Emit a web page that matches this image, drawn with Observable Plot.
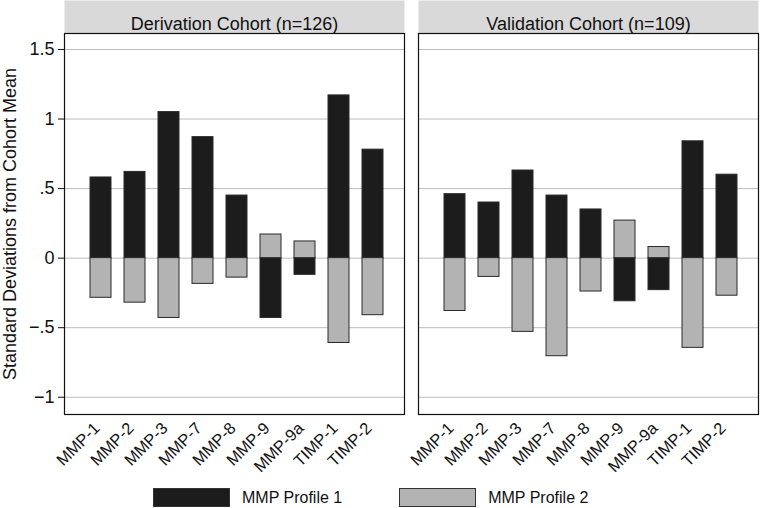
<!DOCTYPE html>
<html>
<head>
<meta charset="utf-8">
<script src="https://cdn.jsdelivr.net/npm/d3@7"></script>
<script src="https://cdn.jsdelivr.net/npm/@observablehq/plot@0.6"></script>
<style>
  body { margin: 0; background: #fff; font-family: "Liberation Sans", Arial, sans-serif; }
  #legend { height: 28px; box-sizing: border-box; padding-top: 7px; padding-left: 153px; display: flex; align-items: center; font-size: 16px; color: #111; }
  #legend .sw { width: 77px; height: 19px; box-sizing: border-box; border: 1px solid #333; }
  #legend .lab { margin-left: 12px; }
</style>
</head>
<body>
<div id="chart"></div>
<script>
const categories = ["MMP-1","MMP-2","MMP-3","MMP-7","MMP-8","MMP-9","MMP-9a","TIMP-1","TIMP-2"];
const cohorts = ["Derivation Cohort (n=126)", "Validation Cohort (n=109)"];
const series = ["MMP Profile 1", "MMP Profile 2"];
const derivationProfile1 = [0.58, 0.62, 1.05, 0.87, 0.45, -0.43, -0.12, 1.17, 0.78];
const derivationProfile2 = [-0.285, -0.32, -0.43, -0.185, -0.14, 0.17, 0.12, -0.61, -0.41];
const validationProfile1 = [0.46, 0.40, 0.63, 0.45, 0.35, -0.31, -0.23, 0.84, 0.60];
const validationProfile2 = [-0.38, -0.135, -0.53, -0.705, -0.24, 0.27, 0.08, -0.645, -0.27];
const yTicks = [-1, -0.5, 0, 0.5, 1, 1.5];
const colors = ["#1c1c1c", "#b3b3b3"];

const table = [];
[[derivationProfile1, derivationProfile2], [validationProfile1, validationProfile2]].forEach((pair, ci) => {
  pair.forEach((vals, si) => {
    vals.forEach((v, i) => table.push({cohort: cohorts[ci], series: series[si], category: categories[i], value: v}));
  });
});

const W = 760, H = 480, mT = 33, mB = 66, mL = 63, mR = 2;
const plotH = H - mT - mB;

const fmt = d => d === 0 ? "0" : (d < 0 ? "\u2212" : "") + String(Math.abs(d)).replace(/^0\./, ".");

const chart = Plot.plot({
  width: W, height: H,
  marginTop: mT, marginBottom: mB, marginLeft: mL, marginRight: mR,
  style: {fontFamily: "Liberation Sans, Arial, sans-serif", fontSize: "18px", color: "#111", background: "#fff"},
  fx: {domain: cohorts, paddingInner: 0.04, paddingOuter: 0, axis: null, label: null},
  x: {domain: categories, paddingInner: 0.39, paddingOuter: 0.64, align: 0.56, label: null, axis: null},
  y: {domain: [-1.124, 1.615], ticks: yTicks, tickFormat: fmt, label: "Standard Deviations from Cohort Mean", labelAnchor: "center", labelArrow: "none", tickSize: 6, tickPadding: 4, labelOffset: 61},
  color: {domain: series, range: colors},
  marks: [
    Plot.frame({fill: "#d9d9d9", stroke: "none", insetTop: -mT, insetBottom: plotH}),
    Plot.text(cohorts, {fx: d => d, text: d => d, frameAnchor: "top", dy: -16, fontSize: 18, fill: "#111"}),
    Plot.gridY(yTicks, {stroke: "#bdbdbd", strokeOpacity: 1, strokeWidth: 1}),
    Plot.barY(table, {fx: "cohort", x: "category", y: "value", fill: "series", stroke: "#2a2a2a", strokeWidth: 1}),
    Plot.axisX({tickSize: 0, tickPadding: 9, tickRotate: -45, fontSize: 16.5, dx: -4, dy: 2, fill: "#111", label: null}),
    Plot.frame({stroke: "#111", strokeWidth: 1.2})
  ]
});
document.getElementById("chart").appendChild(chart);

const legend = document.createElement("div");
legend.id = "legend";
series.forEach((s, i) => {
  const sw = document.createElement("span");
  sw.className = "sw";
  sw.style.background = colors[i];
  if (i > 0) sw.style.marginLeft = "57px";
  const lab = document.createElement("span");
  lab.className = "lab";
  lab.textContent = s;
  legend.appendChild(sw);
  legend.appendChild(lab);
});
document.body.appendChild(legend);
</script>
</body>
</html>
